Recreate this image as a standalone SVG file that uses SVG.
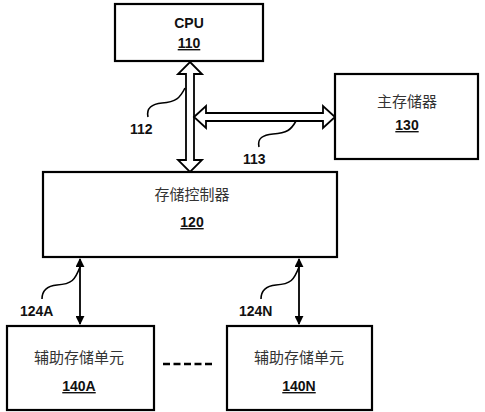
<svg xmlns="http://www.w3.org/2000/svg" width="485" height="412" viewBox="0 0 485 412">
<defs>
<style>
.box{fill:#fff;stroke:#000;stroke-width:2.2}
.num{font-family:"Liberation Sans",Arial,sans-serif;font-weight:bold;font-size:14px;fill:#111;text-anchor:middle;text-decoration:underline}
.lbl{font-family:"Liberation Sans",Arial,sans-serif;font-weight:bold;font-size:14px;fill:#111}
.cn{font-family:"Liberation Sans","Noto Sans CJK SC",sans-serif;font-size:15px;fill:#333;text-anchor:middle}
.bus{fill:#fff;stroke:#000;stroke-width:1.8;stroke-linejoin:miter}
.sq{fill:none;stroke:#000;stroke-width:1.6}
.ln{stroke:#000;stroke-width:1.8;fill:none}
</style>
<marker id="ah" viewBox="0 0 10 10" refX="9" refY="5" markerWidth="5" markerHeight="5" orient="auto-start-reverse" markerUnits="strokeWidth">
<path d="M0,0 L10,5 L0,10 Z" fill="#000"/>
</marker>
</defs>
<g id="connectors">
<path id="bus112" class="bus" d="M190,62 L202,74 L194,74 L194,160 L202,160 L190,172 L178,160 L186,160 L186,74 L178,74 Z"/>
<path id="bus113" class="bus" d="M194,117 L206,106 L206,113 L323,113 L323,106 L335,117 L323,128 L323,121 L206,121 L206,128 Z"/>
<line class="ln" x1="80" y1="259" x2="80" y2="324" marker-start="url(#ah)" marker-end="url(#ah)"/>
<line class="ln" x1="299" y1="259" x2="299" y2="324" marker-start="url(#ah)" marker-end="url(#ah)"/>
<line x1="163" y1="364" x2="213" y2="364" stroke="#000" stroke-width="2.5" stroke-dasharray="7,3.5"/>
<path class="sq" d="M148,117 C146,108 152,104 162,103 C176,102 180,98 185,88"/>
<path class="sq" d="M259,147 C257,138 263,135 273,134 C287,133 291,130 296,121"/>
<path class="sq" d="M42,299 C42,290 47,286 57,285 C72,284 75,280 80,267"/>
<path class="sq" d="M261,299 C261,290 266,286 276,285 C291,284 294,280 299,267"/>
<text class="lbl" x="130" y="134">112</text>
<text class="lbl" x="243" y="164">113</text>
<text class="lbl" x="20" y="316">124A</text>
<text class="lbl" x="239" y="316">124N</text>
</g>
<g id="cpu">
<rect class="box" x="115" y="4" width="148" height="57"/>
<text class="lbl" x="189" y="28" text-anchor="middle">CPU</text>
<text class="num" x="189" y="48">110</text>
</g>
<g id="main-memory">
<rect class="box" x="335" y="74" width="143" height="85"/>
<text class="cn" x="407" y="107">主存储器</text>
<text class="num" x="407" y="130">130</text>
</g>
<g id="controller">
<rect class="box" x="43" y="172" width="294" height="85"/>
<text class="cn" x="192" y="200">存储控制器</text>
<text class="num" x="192" y="227">120</text>
</g>
<g id="aux-a">
<rect class="box" x="7" y="326" width="147" height="84"/>
<text class="cn" x="79" y="363">辅助存储单元</text>
<text class="num" x="79" y="391">140A</text>
</g>
<g id="aux-n">
<rect class="box" x="227" y="326" width="145" height="84"/>
<text class="cn" x="299" y="363">辅助存储单元</text>
<text class="num" x="299" y="391">140N</text>
</g>
</svg>
